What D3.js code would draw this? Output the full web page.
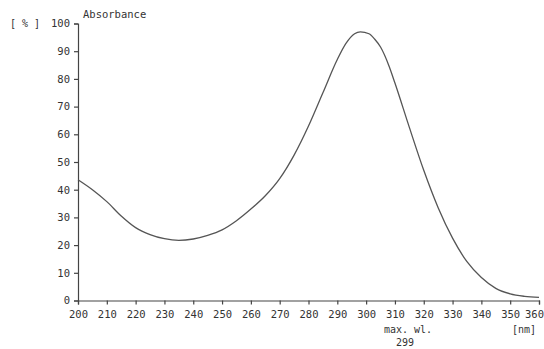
<!DOCTYPE html>
<html><head><meta charset="utf-8">
<script src="https://cdn.jsdelivr.net/npm/d3@7"></script>
<style>
body{margin:0;background:#fff;}
svg{display:block;}
text{font-family:"DejaVu Sans Mono",monospace;fill:#333;}
</style></head><body>
<svg id="c" width="544" height="349"></svg>
<script>
const wavelengths = [200,205,210,215,220,225,230,235,240,245,250,255,260,265,270,275,280,285,290,293,296,298,301,303,305,308,310,315,320,325,330,335,340,345,350,355,360];
const absorbance  = [43.6,40,35.7,30.5,26.3,23.8,22.3,21.7,22.2,23.5,25.5,28.8,33,37.8,44,52.5,63,75,87,92.8,96.3,97,96.3,94.3,91.5,84.5,78.5,62.5,47,33.5,22.5,14,8.3,4.4,2.4,1.5,1.1];
const xTicks = [200,210,220,230,240,250,260,270,280,290,300,310,320,330,340,350,360];
const yTicks = [0,10,20,30,40,50,60,70,80,90,100];

const svg = d3.select("#c");
const x = d3.scaleLinear().domain([200,360]).range([78,539]);
const y = d3.scaleLinear().domain([0,100]).range([300.5,23.5]);

const xAxis = svg.append("g").attr("transform","translate(0,300.5)")
  .call(d3.axisBottom(x).tickValues(xTicks).tickSize(4).tickPadding(6).tickFormat(d3.format("d")));
const yAxis = svg.append("g").attr("transform","translate(78,0)")
  .call(d3.axisLeft(y).tickValues(yTicks).tickSize(4).tickPadding(4).tickFormat(d3.format("d")));
[xAxis,yAxis].forEach(g=>{
  g.select(".domain").attr("stroke","#444").attr("stroke-width",1.2);
  g.selectAll(".tick line").attr("stroke","#444").attr("stroke-width",1.2);
  g.selectAll(".tick text").attr("font-size","10.5px").attr("fill","#333")
    .style("font-family","'DejaVu Sans Mono',monospace");
});
xAxis.selectAll(".tick text").filter(d=>d===360).attr("dx","-5");

svg.append("path").datum(wavelengths.map((w,i)=>[w,absorbance[i]]))
  .attr("fill","none").attr("stroke","#555").attr("stroke-width",1.3)
  .attr("d", d3.line().x(d=>x(d[0])).y(d=>y(d[1])).curve(d3.curveMonotoneX));

svg.append("text").attr("x",83).attr("y",18).attr("font-size","10.5px").text("Absorbance");
svg.append("text").attr("x",10).attr("y",27).attr("font-size","10px").text("[ % ]");
svg.append("text").attr("x",408).attr("y",333).attr("text-anchor","middle").attr("font-size","10px").text("max. wl.");
svg.append("text").attr("x",405).attr("y",346).attr("text-anchor","middle").attr("font-size","10px").text("299");
svg.append("text").attr("x",524).attr("y",333).attr("text-anchor","middle").attr("font-size","10px").text("[nm]");
</script></body></html>
